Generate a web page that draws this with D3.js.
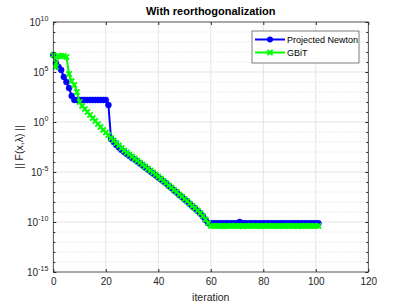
<!DOCTYPE html>
<html><head><meta charset="utf-8">
<script src="https://cdn.jsdelivr.net/npm/d3@7"></script>
<style>
body{margin:0;background:#fff}
text{font-family:"Liberation Sans",Arial,Helvetica,sans-serif}
</style>
</head><body>
<svg id="chart" width="407" height="305"></svg>
<script>
// ---- data ----
const seriesNames = ["Projected Newton", "GBiT"];
const xTicks = [0, 20, 40, 60, 80, 100, 120];
const yTickExponents = [-15, -10, -5, 0, 5, 10];
const yMinorExponents = [-14,-13,-12,-11,-9,-8,-7,-6,-4,-3,-2,-1,1,2,3,4,6,7,8,9];

const projectedNewton = [
  5.0e6, 7.9e5, 3.2e5, 1.6e5, 3.2e4, 1.0e4, 2.5e3, 4.0e2, 1.6e2,
  1.6e2, 1.6e2, 1.6e2, 1.6e2, 1.6e2, 1.6e2, 1.6e2, 1.6e2, 1.6e2, 1.6e2, 1.6e2, 1.6e2,
  5.0e1,
  2.0e-2, 1.0e-2, 5.0e-3, 2.8e-3, 1.6e-3, 1.0e-3, 6.3e-4, 4.0e-4, 2.5e-4,
  1.8e-4, 1.1e-4, 7.1e-5, 4.5e-5, 2.8e-5, 1.8e-5, 1.1e-5, 7.1e-6, 4.5e-6, 2.8e-6,
  1.8e-6, 1.1e-6, 7.1e-7, 4.0e-7, 2.5e-7, 1.4e-7, 8.9e-8, 5.0e-8, 3.2e-8, 1.8e-8,
  1.1e-8, 6.3e-9, 3.5e-9, 2.2e-9, 1.26e-9, 7.1e-10, 3.5e-10, 1.6e-10, 7.9e-11,
  7.4e-11, 7.4e-11, 7.3e-11, 7.4e-11, 7.4e-11, 7.3e-11, 7.4e-11, 7.4e-11, 7.4e-11, 7.3e-11,
  7.4e-11, 1.0e-10, 7.4e-11, 7.4e-11, 7.3e-11, 7.4e-11, 7.4e-11, 7.4e-11, 7.3e-11, 7.4e-11,
  7.4e-11, 7.4e-11, 7.3e-11, 7.4e-11, 7.4e-11, 7.4e-11, 7.3e-11, 7.4e-11, 7.4e-11, 7.4e-11,
  7.3e-11, 7.4e-11, 7.4e-11, 7.4e-11, 7.3e-11, 7.4e-11, 7.4e-11, 7.4e-11, 7.3e-11, 7.4e-11,
  7.4e-11, 7.4e-11
];

const gbit = [
  5.0e6, 3.2e5, 4.0e6, 4.0e6, 4.0e6, 3.2e6, 6.3e4, 1.26e4, 5.0e3, 1.0e3, 1.0e2,
  40, 20, 10, 5.0, 2.5, 1.26, 0.63, 0.32, 0.16, 0.089, 0.05, 0.025,
  1.4e-2, 7.9e-3, 4.5e-3, 2.5e-3, 1.4e-3, 8.9e-4, 5.6e-4, 3.5e-4,
  2.2e-4, 1.4e-4, 8.9e-5, 5.6e-5, 3.5e-5, 2.2e-5, 1.4e-5, 8.9e-6, 5.6e-6, 3.5e-6,
  2.2e-6, 1.26e-6, 7.9e-7, 4.5e-7, 2.8e-7, 1.6e-7, 1.0e-7, 5.6e-8, 3.5e-8, 2.0e-8,
  1.26e-8, 7.1e-9, 4.0e-9, 2.5e-9, 1.4e-9, 7.9e-10, 4.0e-10, 1.8e-10, 7.9e-11,
  4.0e-11, 4.0e-11, 4.1e-11, 4.0e-11, 4.0e-11, 3.9e-11, 4.0e-11, 4.0e-11, 4.1e-11, 4.0e-11,
  4.0e-11, 4.0e-11, 3.9e-11, 4.0e-11, 4.0e-11, 4.1e-11, 4.0e-11, 4.0e-11, 4.0e-11, 3.9e-11,
  4.0e-11, 4.0e-11, 4.1e-11, 4.0e-11, 4.0e-11, 4.0e-11, 3.9e-11, 4.0e-11, 4.0e-11, 4.1e-11,
  4.0e-11, 4.0e-11, 4.0e-11, 3.9e-11, 4.0e-11, 4.0e-11, 4.1e-11, 4.0e-11, 4.0e-11, 4.0e-11,
  4.0e-11, 4.0e-11
];

// ---- layout ----
const L = 53.3, R = 368.3, T = 22, B = 272;
const axisColor = "#262626";
const svg = d3.select("#chart");
const x = d3.scaleLinear().domain([0, 120]).range([L, R]);
const y = d3.scaleLog().domain([1e-15, 1e10]).range([B, T]);

// background
svg.append("rect").attr("x", L).attr("y", T).attr("width", R - L).attr("height", B - T).attr("fill", "#fff");

// minor grid (dotted)
const gMinor = svg.append("g");
gMinor.selectAll("line").data(yMinorExponents).join("line")
  .attr("x1", L).attr("x2", R)
  .attr("y1", d => y(Math.pow(10, d))).attr("y2", d => y(Math.pow(10, d)))
  .attr("stroke", "#c4c4c4").attr("stroke-width", 0.6).attr("stroke-dasharray", "1 2.2");

// major grid
const gMajor = svg.append("g");
gMajor.selectAll("line.h").data(yTickExponents.slice(1, -1)).join("line")
  .attr("x1", L).attr("x2", R)
  .attr("y1", d => y(Math.pow(10, d))).attr("y2", d => y(Math.pow(10, d)))
  .attr("stroke", "#dedede").attr("stroke-width", 0.8);
gMajor.selectAll("line.v").data(xTicks.slice(1, -1)).join("line")
  .attr("y1", T).attr("y2", B)
  .attr("x1", d => x(d)).attr("x2", d => x(d))
  .attr("stroke", "#dedede").attr("stroke-width", 0.8);

// series
const idx = projectedNewton.map((_, i) => i);
const line = d3.line().x(d => x(d[0])).y(d => y(d[1]));
const blueData = projectedNewton.map((v, i) => [i, v]);
const greenData = gbit.map((v, i) => [i, v]);

svg.append("path").datum(blueData).attr("d", line)
  .attr("fill", "none").attr("stroke", "#0000ff").attr("stroke-width", 2).attr("stroke-linejoin", "round");
svg.append("g").selectAll("circle").data(blueData).join("circle")
  .attr("cx", d => x(d[0])).attr("cy", d => y(d[1])).attr("r", 3)
  .attr("fill", "#0000ff").attr("stroke", "#0000ff").attr("stroke-width", 0.5);

svg.append("path").datum(greenData).attr("d", line)
  .attr("fill", "none").attr("stroke", "#00ff00").attr("stroke-width", 2).attr("stroke-linejoin", "round");
const xm = 2.6;
svg.append("g").selectAll("path").data(greenData).join("path")
  .attr("d", d => { const cx = x(d[0]), cy = y(d[1]);
    return `M${cx-xm},${cy-xm}L${cx+xm},${cy+xm}M${cx-xm},${cy+xm}L${cx+xm},${cy-xm}`; })
  .attr("stroke", "#00ff00").attr("stroke-width", 2).attr("fill", "none");

// axes box
svg.append("rect").attr("x", L).attr("y", T).attr("width", R - L).attr("height", B - T)
  .attr("fill", "none").attr("stroke", axisColor).attr("stroke-width", 0.8);

// x axis ticks (inward) bottom & top
const xAxisB = d3.axisBottom(x).tickValues(xTicks).tickSizeInner(-3).tickSizeOuter(0).tickPadding(6).tickFormat(d3.format("d"));
const gxb = svg.append("g").attr("transform", `translate(0,${B})`).call(xAxisB);
gxb.select(".domain").remove();
gxb.selectAll("line").attr("stroke", axisColor);
gxb.selectAll("text").attr("fill", axisColor).attr("font-size", 10).attr("font-family", '"Liberation Sans",Arial,sans-serif');
const xAxisT = d3.axisTop(x).tickValues(xTicks).tickSizeInner(-3).tickSizeOuter(0).tickFormat("");
const gxt = svg.append("g").attr("transform", `translate(0,${T})`).call(xAxisT);
gxt.select(".domain").remove();
gxt.selectAll("line").attr("stroke", axisColor);

// y axis ticks
const yVals = yTickExponents.map(e => Math.pow(10, e));
const yMinVals = yMinorExponents.map(e => Math.pow(10, e));
const yAxisL = d3.axisLeft(y).tickValues(yVals).tickSizeInner(-3).tickSizeOuter(0).tickPadding(6).tickFormat("");
const gyl = svg.append("g").attr("transform", `translate(${L},0)`).call(yAxisL);
gyl.select(".domain").remove();
gyl.selectAll("line").attr("stroke", axisColor);
const yAxisLm = d3.axisLeft(y).tickValues(yMinVals).tickSizeInner(-2).tickSizeOuter(0).tickFormat("");
const gylm = svg.append("g").attr("transform", `translate(${L},0)`).call(yAxisLm);
gylm.select(".domain").remove();
gylm.selectAll("line").attr("stroke", axisColor);
const yAxisR = d3.axisRight(y).tickValues(yVals).tickSizeInner(-3).tickSizeOuter(0).tickFormat("");
const gyr = svg.append("g").attr("transform", `translate(${R},0)`).call(yAxisR);
gyr.select(".domain").remove();
gyr.selectAll("line").attr("stroke", axisColor);
const yAxisRm = d3.axisRight(y).tickValues(yMinVals).tickSizeInner(-2).tickSizeOuter(0).tickFormat("");
const gyrm = svg.append("g").attr("transform", `translate(${R},0)`).call(yAxisRm);
gyrm.select(".domain").remove();
gyrm.selectAll("line").attr("stroke", axisColor);

// y tick labels with superscript
const yl = svg.append("g");
yTickExponents.forEach(e => {
  const t = yl.append("text").attr("x", L - 5).attr("y", y(Math.pow(10, e)) + 3.5)
    .attr("text-anchor", "end").attr("fill", axisColor).attr("font-size", 10);
  t.append("tspan").text("10");
  t.append("tspan").attr("dy", -4.5).attr("font-size", 7).text(String(e).replace("-", "-"));
});

// title and labels
svg.append("text").attr("x", (L + R) / 2).attr("y", 15).attr("text-anchor", "middle")
  .attr("font-size", 11).attr("font-weight", "bold").attr("fill", "#000").text("With reorthogonalization");
svg.append("text").attr("x", (L + R) / 2).attr("y", 301).attr("text-anchor", "middle")
  .attr("font-size", 10.5).attr("fill", axisColor).text("iteration");
svg.append("text").attr("transform", `translate(23,${(T + B) / 2}) rotate(-90)`).attr("text-anchor", "middle")
  .attr("font-size", 10.5).attr("fill", axisColor).text("|| F(x,λ) ||");

// legend
const lg = svg.append("g");
lg.append("rect").attr("x", 252).attr("y", 31).attr("width", 107).attr("height", 32)
  .attr("fill", "#fff").attr("stroke", axisColor).attr("stroke-width", 0.6);
const legendY = [39.5, 52.5];
// blue
lg.append("line").attr("x1", 255).attr("x2", 285).attr("y1", legendY[0]).attr("y2", legendY[0])
  .attr("stroke", "#0000ff").attr("stroke-width", 2);
lg.append("circle").attr("cx", 270).attr("cy", legendY[0]).attr("r", 3).attr("fill", "#0000ff");
lg.append("text").attr("x", 287).attr("y", legendY[0] + 3.2).attr("font-size", 9).attr("fill", "#000").text(seriesNames[0]);
// green
lg.append("line").attr("x1", 255).attr("x2", 285).attr("y1", legendY[1]).attr("y2", legendY[1])
  .attr("stroke", "#00ff00").attr("stroke-width", 2);
lg.append("path").attr("d", `M${270-xm},${legendY[1]-xm}L${270+xm},${legendY[1]+xm}M${270-xm},${legendY[1]+xm}L${270+xm},${legendY[1]-xm}`)
  .attr("stroke", "#00ff00").attr("stroke-width", 2);
lg.append("text").attr("x", 287).attr("y", legendY[1] + 3.2).attr("font-size", 9).attr("fill", "#000").text(seriesNames[1]);
</script>
</body></html>
